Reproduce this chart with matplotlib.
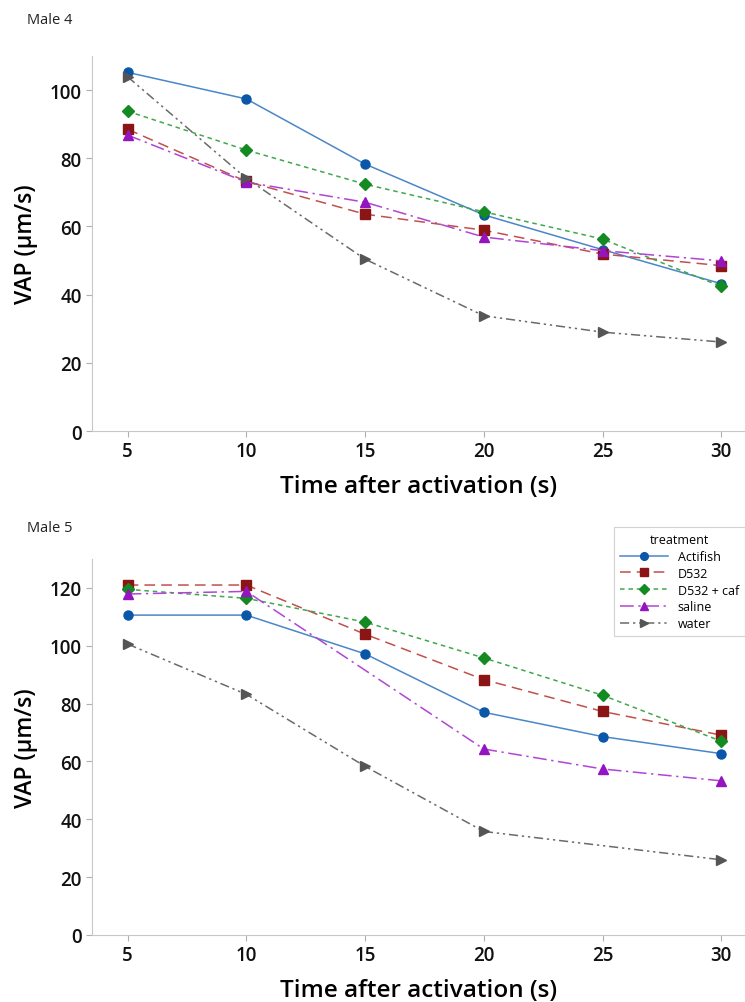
import numpy as np
import matplotlib.pyplot as plt

plt.rcParams['font.family'] = ['Open Sans', 'DejaVu Sans']

time_s = [5, 10, 15, 20, 25, 30]
treatments = ["Actifish", "D532", "D532 + caf", "saline", "water"]

# VAP means per treatment, nan where no measurement
male4 = {
    "Actifish":   [105.2, 97.4, 78.3, 63.4, 53.2, 43.2],
    "D532":       [88.5, 73.2, 63.6, 58.9, 51.9, 48.5],
    "D532 + caf": [93.8, 82.4, 72.4, 64.3, 56.3, 42.4],
    "saline":     [86.8, 73.0, 67.1, 56.9, 52.9, 49.9],
    "water":      [103.9, 74.1, 50.4, 33.8, 29.0, 26.1],
}
male5 = {
    "Actifish":   [110.6, 110.6, 97.2, 77.0, 68.6, 62.7],
    "D532":       [121.0, 121.0, 104.0, 88.3, 77.3, 69.1],
    "D532 + caf": [119.5, 116.4, 108.2, 95.8, 82.9, 67.0],
    "saline":     [117.9, 118.8, np.nan, 64.3, 57.4, 53.3],
    "water":      [100.6, 83.2, 58.3, 35.8, np.nan, 26.0],
}

styles = {
    "Actifish":   dict(color="#4a86c8", mfc="#0a56a8", mec="#0a56a8", marker="o", ls="-", ms=6.5),
    "D532":       dict(color="#c0504d", mfc="#8b1414", mec="#8b1414", marker="s", ls=(0, (7, 4)), ms=6.5),
    "D532 + caf": dict(color="#3fa84a", mfc="#138a22", mec="#138a22", marker="D", ls=(0, (3, 2.5)), ms=6),
    "saline":     dict(color="#b144d6", mfc="#9314c0", mec="#9314c0", marker="^", ls=(0, (9, 3, 1.5, 3)), ms=7),
    "water":      dict(color="#6a6a6a", mfc="#555555", mec="#555555", marker=">", ls=(0, (6, 2.5, 1.5, 2.5, 1.5, 2.5)), ms=7),
}

fig = plt.figure(figsize=(7.45, 10.03), dpi=100)
ax1 = fig.add_axes([92 / 745, 1 - 432 / 1003, 653 / 745, 375 / 1003])
ax2 = fig.add_axes([92 / 745, 1 - 936 / 1003, 653 / 745, 376 / 1003])


def draw_panel(ax, data, ymax, ticks):
    t = np.array(time_s)
    for name in treatments:
        y = np.array(data[name], dtype=float)
        ok = ~np.isnan(y)
        st = styles[name]
        ax.plot(t[ok], y[ok], color=st["color"], linestyle=st["ls"], lw=1.1,
                marker=st["marker"], markersize=st["ms"], markerfacecolor=st["mfc"],
                markeredgecolor=st["mec"], label=name)
    ax.set_xlim(3.5, 31)
    ax.set_ylim(0, ymax)
    ax.set_xticks(time_s)
    ax.set_yticks(ticks)
    for s in ["top", "right"]:
        ax.spines[s].set_visible(False)
    for s in ["left", "bottom"]:
        ax.spines[s].set_color("#c8c8c8")
    ax.tick_params(colors="#b0b0b0", labelcolor="#111111", labelsize=13.5, length=4)
    for lbl in ax.get_xticklabels() + ax.get_yticklabels():
        lbl.set_fontweight("semibold")
    ax.set_ylabel("VAP (µm/s)", fontsize=16.5, fontweight="semibold", labelpad=8)
    ax.set_xlabel("Time after activation (s)", fontsize=17.5, fontweight="semibold", labelpad=9)


draw_panel(ax1, male4, 110, [0, 20, 40, 60, 80, 100])
draw_panel(ax2, male5, 130, [0, 20, 40, 60, 80, 100, 120])

fig.text(27 / 745, 1 - 20 / 1003, "Male 4", fontsize=10.5, va="center", color="#222222")
fig.text(27 / 745, 1 - 529 / 1003, "Male 5", fontsize=10.5, va="center", color="#222222")

leg = ax2.legend(title="treatment", loc="upper right", bbox_to_anchor=(1.0, 1.085),
                 borderaxespad=0, fontsize=9, title_fontsize=9, frameon=True, fancybox=False,
                 borderpad=0.5, labelspacing=0.3, handlelength=3.8, markerscale=0.85)
leg.get_frame().set_edgecolor("#c8c8c8")
leg.get_frame().set_linewidth(0.8)

fig.savefig("out.png", dpi=100)
